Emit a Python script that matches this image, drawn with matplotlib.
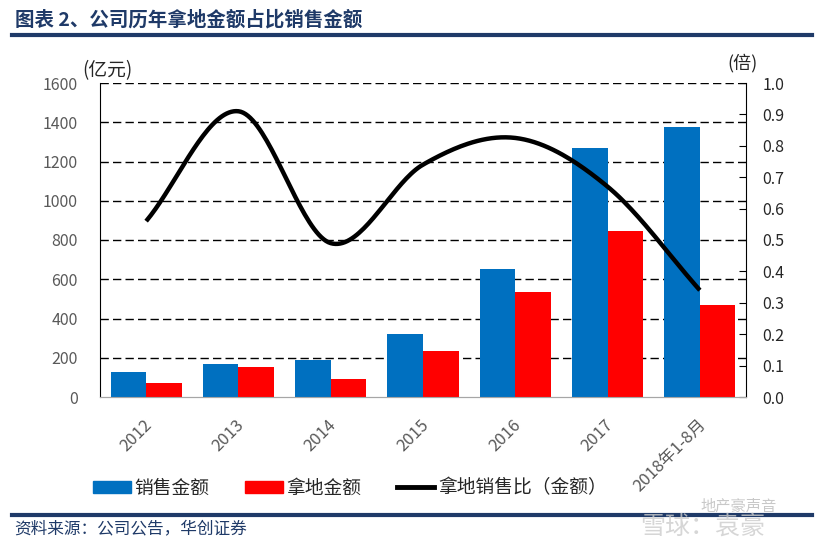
import numpy as np
import matplotlib
matplotlib.use("Agg")
import matplotlib.pyplot as plt
from matplotlib.lines import Line2D
from matplotlib.patches import Patch

plt.rcParams['font.family'] = ['Noto Sans CJK SC', 'DejaVu Sans']

categories = ["2012", "2013", "2014", "2015", "2016", "2017", "2018年1-8月"]
sales = [129, 170, 187, 319, 651, 1267, 1374]
land = [73, 154, 90, 236, 537, 846, 467]
ratio = [0.56, 0.91, 0.49, 0.74, 0.825, 0.67, 0.34]
left_ticks = [0, 200, 400, 600, 800, 1000, 1200, 1400, 1600]
right_ticks = [0.0, 0.1, 0.2, 0.3, 0.4, 0.5, 0.6, 0.7, 0.8, 0.9, 1.0]

BLUE = "#0070C0"
RED = "#FF0000"
NAVY = "#1F3A68"
GREY = "#595959"

fig = plt.figure(figsize=(8.24, 5.45), dpi=100)
ax = fig.add_axes([100/824, 1-397/545, 646/824, 314/545])
ax2 = ax.twinx()

x = np.arange(len(categories))
w = 0.385
ax.bar(x - w/2, sales, w, color=BLUE, zorder=3)
ax.bar(x + w/2, land, w, color=RED, zorder=3)
ax.set_xlim(-0.5, len(categories) - 0.5)
ax.set_ylim(0, 1600)
ax.set_yticks(left_ticks)
ax.set_yticklabels([str(t) for t in left_ticks], color=GREY, fontsize=11.5)
ax.tick_params(axis='y', length=0, pad=16)
for t in left_ticks[1:]:
    ax.axhline(t, color='black', lw=1.0, ls=(0, (6, 3)), zorder=1)
ax.set_xticks(x)
ax.set_xticklabels([])
ax.tick_params(axis='x', length=0)
for i, c in enumerate(categories):
    ax.annotate(c, xy=(i, 0), xycoords=('data', 'axes fraction'),
                xytext=(-2, -14), textcoords='offset points',
                rotation=45, ha='right', va='top', rotation_mode='anchor',
                color=GREY, fontsize=12)

# smooth line (Catmull-Rom through data points)
px = np.array(x, dtype=float)
py = np.array(ratio, dtype=float)
P = np.column_stack([px, py])
P = np.vstack([2*P[0]-P[1], P, 2*P[-1]-P[-2]])
xs, ys = [], []
for i in range(1, len(P) - 2):
    p0, p1, p2, p3 = P[i-1], P[i], P[i+1], P[i+2]
    t = np.linspace(0, 1, 40)[:, None]
    pt = 0.5*((2*p1) + (-p0 + p2)*t + (2*p0 - 5*p1 + 4*p2 - p3)*t**2 + (-p0 + 3*p1 - 3*p2 + p3)*t**3)
    xs.extend(pt[:, 0]); ys.extend(pt[:, 1])
ax2.plot(xs, ys, color='black', lw=3.2, zorder=5, solid_capstyle='butt')
ax2.set_ylim(0, 1.0)
ax2.set_yticks(right_ticks)
ax2.set_yticklabels([f"{t:.1f}" for t in right_ticks], color='#262626', fontsize=11.5)
ax2.tick_params(axis='y', direction='in', length=5, pad=12)
ax.set_zorder(1); ax2.set_zorder(2); ax2.patch.set_visible(False)

for a in (ax, ax2):
    a.spines['top'].set_visible(False)
    a.spines['left'].set_color('black')
    a.spines['right'].set_color('black')
    a.spines['bottom'].set_color('#A6A6A6')
ax.spines['right'].set_visible(False)
ax2.spines['left'].set_visible(False)

fig.text(82/824, 1-71/545, "(亿元)", fontsize=13.5, color='#262626', ha='left', va='center')
fig.text(727/824, 1-63/545, "(倍)", fontsize=13, color='#262626', ha='left', va='center')

# title and rules
fig.text(15/824, 1-20/545, "图表 2、公司历年拿地金额占比销售金额", fontsize=14,
         fontweight='bold', color=NAVY, ha='left', va='center')
fig.add_artist(Line2D([12/824, 812/824], [1-35/545, 1-35/545], color=NAVY, lw=3))
fig.add_artist(Line2D([12/824, 812/824], [1-515/545, 1-515/545], color=NAVY, lw=3))
fig.text(14/824, 1-529/545, "资料来源：公司公告，华创证券", fontsize=12, style='italic',
         color=NAVY, ha='left', va='center')

# legend
handles = [Patch(color=BLUE), Patch(color=RED), Line2D([], [], color='black', lw=3.5)]
labels = ["销售金额", "拿地金额", "拿地销售比（金额）"]
fig.legend(handles, labels, loc='center', bbox_to_anchor=(350/824, 1-488/545), ncol=3,
           frameon=False, fontsize=13.5, handlelength=2.0, handleheight=0.55,
           columnspacing=1.9, handletextpad=0.2, labelcolor='#262626')

# watermark
fig.text(700/824, 1-506/545, "地产豪声音", fontsize=11, color='#BBBBBB', ha='left', va='center', alpha=0.8)
fig.text(640/824, 1-527/545, "雪球：袁豪", fontsize=18, color='#CCCCCC', ha='left', va='center', alpha=0.8)

fig.savefig("out.png", dpi=100)
